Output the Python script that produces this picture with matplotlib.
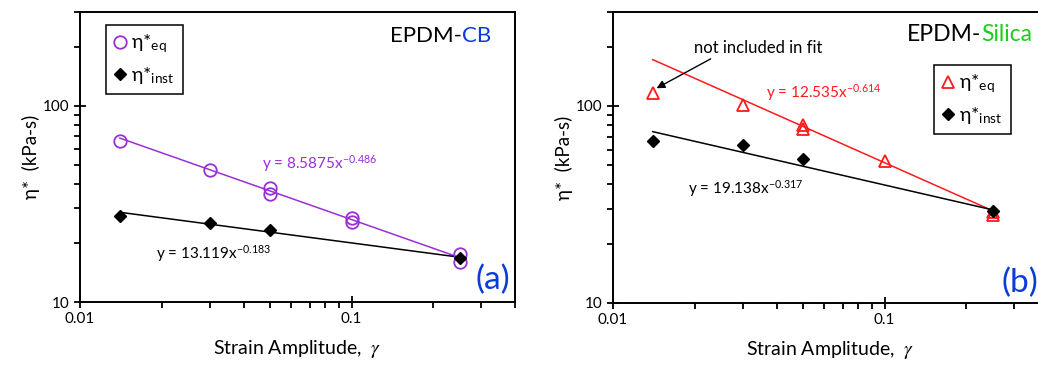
import matplotlib
matplotlib.use("Agg")
import matplotlib.pyplot as plt
import matplotlib.ticker as mticker

plt.rcParams["font.family"] = ["Lato", "DejaVu Sans"]
plt.rcParams["mathtext.fontset"] = "stix"

# ── data ─────────────────────────────────────────────────────
cb_eq_x = [0.014, 0.03, 0.05, 0.05, 0.1, 0.1, 0.25, 0.25]
cb_eq_y = [65.9, 47.2, 38.2, 35.6, 26.9, 25.6, 17.5, 15.9]
cb_inst_x = [0.014, 0.03, 0.05, 0.25]
cb_inst_y = [27.4, 25.3, 23.2, 16.7]

si_eq_x = [0.014, 0.03, 0.05, 0.05, 0.1, 0.25, 0.25]
si_eq_y = [117.0, 101.5, 80.0, 76.5, 52.4, 28.0, 29.0]
si_inst_x = [0.014, 0.03, 0.05, 0.25]
si_inst_y = [66.1, 63.4, 53.8, 29.2]

fit_x = [0.014, 0.25]
cb_eq_fit = [68.4, 16.84]
cb_inst_fit = [28.65, 16.91]
si_eq_fit = [172.0, 29.4]
si_inst_fit = [74.1, 29.7]

PURPLE = "#9A2FD6"
RED = "#FF1A1A"
BLUE = "#0A3CD8"
GREEN = "#1ECC1E"

EQ_LABEL = r"η*$_{\mathregular{eq}}$"
INST_LABEL = r"η*$_{\mathregular{inst}}$"

fig = plt.figure(figsize=(10.38, 3.67), dpi=100)
ax1 = fig.add_axes([0.0771, 0.1771, 0.4191, 0.7902])
ax2 = fig.add_axes([0.5906, 0.1744, 0.4191, 0.7929])


def style_axes(ax):
    ax.set_xscale("log")
    ax.set_yscale("log")
    ax.set_xlim(0.01, 0.4)
    ax.set_ylim(10, 300)
    for sp in ax.spines.values():
        sp.set_linewidth(1.4)
    ax.xaxis.set_major_locator(mticker.FixedLocator([0.01, 0.1]))
    ax.xaxis.set_major_formatter(mticker.FixedFormatter(["0.01", "0.1"]))
    ax.yaxis.set_major_locator(mticker.FixedLocator([10, 100]))
    ax.yaxis.set_major_formatter(mticker.FixedFormatter(["10", "100"]))
    ax.xaxis.set_minor_locator(mticker.LogLocator(base=10, subs=range(2, 10)))
    ax.yaxis.set_minor_locator(mticker.LogLocator(base=10, subs=range(2, 10)))
    ax.xaxis.set_minor_formatter(mticker.NullFormatter())
    ax.yaxis.set_minor_formatter(mticker.NullFormatter())
    ax.tick_params(which="major", direction="inout", length=8, width=1.3,
                   labelsize=11, top=False, right=False)
    ax.tick_params(which="minor", direction="out", length=4, width=1.3,
                   top=False, right=False)
    ax.set_xlabel(r"Strain Amplitude,  $\gamma$", fontsize=14, labelpad=8)
    ax.set_ylabel("η*  (kPa-s)", fontsize=13.5, labelpad=2)


def add_legend(ax, anchor):
    leg = ax.legend(loc="upper left", bbox_to_anchor=anchor, borderaxespad=0,
                    fancybox=False, edgecolor="black", fontsize=14,
                    handlelength=0.6, handletextpad=0.3, labelspacing=0.5,
                    borderpad=0.4, framealpha=1)
    leg.get_frame().set_linewidth(1.1)


# ── (a) EPDM-CB ──────────────────────────────────────────────
ax = ax1
style_axes(ax)
ax.plot(fit_x, cb_eq_fit, color=PURPLE, linewidth=1.1, zorder=2)
ax.plot(fit_x, cb_inst_fit, color="black", linewidth=1.1, zorder=2)
ax.plot(cb_eq_x, cb_eq_y, linestyle="none", marker="o", markersize=9,
        markerfacecolor="none", markeredgecolor=PURPLE, markeredgewidth=1.3,
        label=EQ_LABEL, zorder=3)
ax.plot(cb_inst_x, cb_inst_y, linestyle="none", marker="D", markersize=6.5,
        color="black", label=INST_LABEL, zorder=4)
ax.text(0.418, 0.476, r"y = 8.5875x$^{\mathregular{-0.486}}$", transform=ax.transAxes,
        color=PURPLE, fontsize=11, va="center")
ax.text(0.175, 0.166, r"y = 13.119x$^{\mathregular{-0.183}}$", transform=ax.transAxes,
        color="black", fontsize=11, va="center")
t = ax.text(0.713, 0.917, "EPDM-", transform=ax.transAxes, fontsize=16,
            va="center")
ax.annotate("CB", xy=(1, 0.5), xycoords=t, fontsize=16, color=BLUE,
            va="center", ha="left")
ax.text(0.989, 0.076, "(a)", transform=ax.transAxes, fontsize=24, color=BLUE,
        ha="right", va="center")
add_legend(ax, (0.06, 0.955))

# ── (b) EPDM-Silica ──────────────────────────────────────────
ax = ax2
style_axes(ax)
ax.plot(fit_x, si_eq_fit, color=RED, linewidth=1.1, zorder=2)
ax.plot(fit_x, si_inst_fit, color="black", linewidth=1.1, zorder=2)
ax.plot(si_eq_x, si_eq_y, linestyle="none", marker="^", markersize=9,
        markerfacecolor="none", markeredgecolor=RED, markeredgewidth=1.3,
        label=EQ_LABEL, zorder=3)
ax.plot(si_inst_x, si_inst_y, linestyle="none", marker="D", markersize=6.5,
        color="black", label=INST_LABEL, zorder=4)
ax.text(0.351, 0.722, r"y = 12.535x$^{\mathregular{-0.614}}$", transform=ax.transAxes,
        color=RED, fontsize=11, va="center")
ax.text(0.172, 0.395, r"y = 19.138x$^{\mathregular{-0.317}}$", transform=ax.transAxes,
        color="black", fontsize=11, va="center")
ax.annotate("not included in fit", xy=(0.1, 0.738), xytext=(0.186, 0.876),
            xycoords="axes fraction", textcoords="axes fraction", fontsize=12,
            va="center",
            arrowprops=dict(arrowstyle="-|>", color="black", lw=1.0,
                            shrinkA=0, shrinkB=0, relpos=(0.17, 0.0)))
t = ax.text(0.675, 0.921, "EPDM-", transform=ax.transAxes, fontsize=16.5,
            va="center")
ax.annotate("Silica", xy=(1, 0.5), xycoords=t, fontsize=16.5, color=GREEN,
            va="center", ha="left")
ax.text(0.893, 0.069, "(b)", transform=ax.transAxes, fontsize=24, color=BLUE,
        ha="left", va="center")
add_legend(ax, (0.738, 0.818))

fig.savefig("out.png", dpi=100)
